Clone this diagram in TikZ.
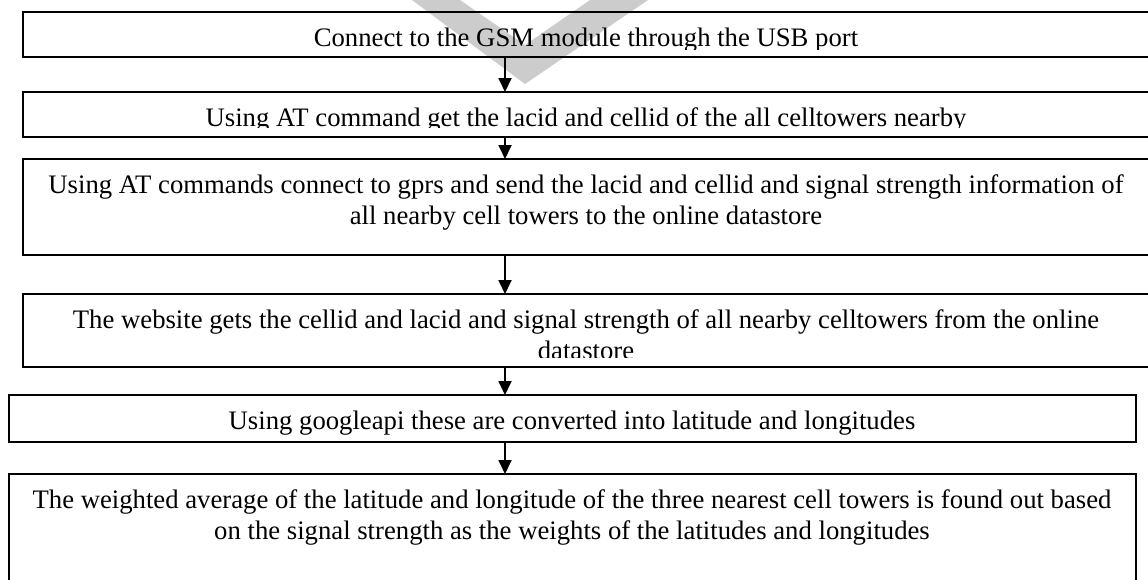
\documentclass[tikz,border=0pt]{standalone}
\usepackage{fontspec}
\setmainfont{Liberation Serif}
\usetikzlibrary{arrows.meta}
\tikzset{
  flowbox/.style={draw=black, line width=1.8pt, rectangle, inner sep=0pt, outer sep=0pt, anchor=north west},
  linetext/.style={anchor=base, inner sep=0pt, font=\fontsize{26.7}{30.7}\selectfont},
  flowarrow/.style={draw=black, line width=1.8pt, -{Triangle[width=13pt,length=14pt]}},
  watermark/.style={fill=black!20, draw=none}
}
\begin{document}
\begin{tikzpicture}[x=1pt,y=-1pt]
\useasboundingbox (0,0) rectangle (1148,579);
\clip (0,0) rectangle (1148,579);
\fill[watermark] (412,0) -- (460,0) -- (525,45) -- (590,0) -- (648,0) -- (525,84) -- cycle;
\coordinate (ax) at (505,0);
\node[flowbox, minimum width=1137pt, minimum height=45pt] (b1) at (23,12) {};
\node[flowbox, minimum width=1137pt, minimum height=45pt] (b2) at (23,92) {};
\node[flowbox, minimum width=1137pt, minimum height=96pt] (b3) at (23,159) {};
\node[flowbox, minimum width=1137pt, minimum height=73pt] (b4) at (23,294) {};
\node[flowbox, minimum width=1127pt, minimum height=47pt] (b5) at (9,395) {};
\node[flowbox, minimum width=1127pt, minimum height=140pt] (b6) at (9,474) {};
\begin{scope}
\clip (b1.north west) rectangle ([yshift=8pt]b1.south east);
\node[linetext] (t1) at (586,46) {Connect to the GSM module through the USB port};
\end{scope}
\begin{scope}
\clip (b2.north west) rectangle ([yshift=9.5pt]b2.south east);
\node[linetext] (t2) at (586,126) {Using AT command get the lacid and cellid of the all celltowers nearby};
\end{scope}
\node[linetext] (t3a) at (586,193) {Using AT commands connect to gprs and send the lacid and cellid and signal strength information of};
\node[linetext] (t3b) at (586,224) {all nearby cell towers to the online datastore};
\begin{scope}
\clip (b4.north west) rectangle ([yshift=10pt]b4.south east);
\node[linetext] (t4a) at (586,328) {The website gets the cellid and lacid and signal strength of all nearby celltowers from the online};
\node[linetext] (t4b) at (586,359) {datastore};
\end{scope}
\node[linetext] (t5) at (572,429) {Using googleapi these are converted into latitude and longitudes};
\node[linetext] (t6a) at (572,508) {The weighted average of the latitude and longitude of the three nearest cell towers is found out based};
\node[linetext] (t6b) at (572,539) {on the signal strength as the weights of the latitudes and longitudes};
\draw[flowarrow] (b1.south -| ax) -- (b2.north -| ax);
\draw[flowarrow] (b2.south -| ax) -- (b3.north -| ax);
\draw[flowarrow] (b3.south -| ax) -- (b4.north -| ax);
\draw[flowarrow] (b4.south -| ax) -- (b5.north -| ax);
\draw[flowarrow] (b5.south -| ax) -- (b6.north -| ax);
\end{tikzpicture}
\end{document}
